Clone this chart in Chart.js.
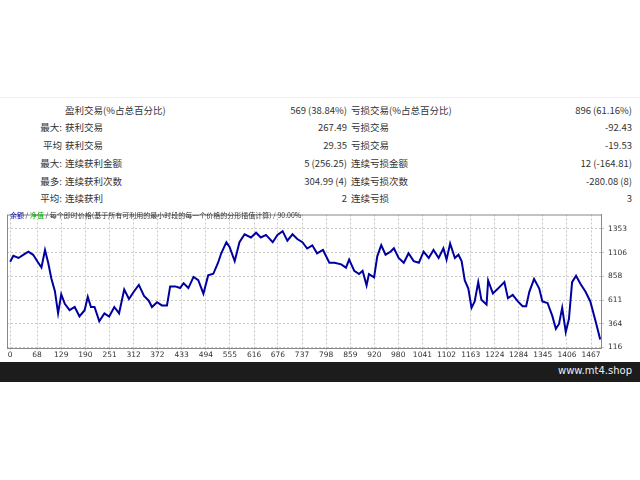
<!DOCTYPE html>
<html>
<head>
<meta charset="utf-8">
<script src="https://cdn.jsdelivr.net/npm/chart.js@4"></script>
<style>
body { margin: 0; width: 640px; height: 480px; background: #fff; position: relative; overflow: hidden;
       font-family: "Noto Sans CJK SC", "DejaVu Sans", sans-serif; color: #333; }
#top { position: absolute; left: 0; top: 0; width: 640px; height: 97px; background: #fff; border-bottom: 1px solid #eee; }
.row { position: absolute; left: 0; width: 640px; height: 18px; font-size: 9.5px; line-height: 18px; }
.row span { position: absolute; white-space: nowrap; }
.pre { right: 578px; }
.n1 { left: 65px; }
.v1 { right: 293px; }
.n2 { left: 351px; }
.v2 { right: 8px; }
#chartBox { position: absolute; left: 0; top: 206px; width: 640px; height: 154px; }
#legend { position: absolute; left: 10px; top: 210px; font-size: 7px; color: #333; white-space: nowrap; }
#bar { position: absolute; left: 0; top: 362px; width: 640px; height: 20px; background: #1c1c1c; }
#bar span { position: absolute; right: 8px; top: 3px; color: #eee; font-family: "DejaVu Sans", sans-serif; font-size: 10px; }
</style>
</head>
<body>
<div id="top"></div>
<div id="table"></div>
<div id="chartBox"><canvas id="c" width="640" height="154"></canvas></div>
<div id="legend"><span style="color:#0000a0">余额</span> / <span style="color:#00a000">净值</span> / 每个即时价格(基于所有可利用的最小时段的每一个价格的分形插值计算) / 90.00%</div>
<div id="bar"><span>www.mt4.shop</span></div>
<script>
// Summary table
const rowPrefix = ['', '最大:', '平均', '最大:', '最多:', '平均:'];
const leftNames = ['盈利交易(%占总百分比)', '获利交易', '获利交易', '连续获利金额', '连续获利次数', '连续获利'];
const leftValues = ['569 (38.84%)', '267.49', '29.35', '5 (256.25)', '304.99 (4)', '2'];
const rightNames = ['亏损交易(%占总百分比)', '亏损交易', '亏损交易', '连续亏损金额', '连续亏损次数', '连续亏损'];
const rightValues = ['896 (61.16%)', '-92.43', '-19.53', '12 (-164.81)', '-280.08 (8)', '3'];

// Balance curve
const trades = [0, 8, 21, 33, 46, 58, 71, 79, 88, 96, 104, 113, 121, 129, 138, 150, 163, 175, 188, 196,
  204, 213, 225, 238, 250, 263, 275, 288, 300, 313, 325, 338, 350, 358, 371, 383, 396, 404, 417, 429,
  438, 450, 463, 475, 488, 500, 513, 525, 533, 546, 554, 567, 579, 592, 608, 621, 633, 646, 663, 675,
  688, 700, 713, 725, 738, 750, 763, 775, 790, 806, 819, 836, 848, 856, 869, 881, 890, 900, 906, 919,
  927, 937, 948, 961, 969, 981, 994, 1006, 1019, 1032, 1044, 1057, 1069, 1082, 1094, 1102, 1111, 1123, 1132, 1140,
  1148, 1157, 1165, 1173, 1182, 1190, 1203, 1207, 1219, 1232, 1240, 1248, 1257, 1269, 1282, 1294, 1303, 1311, 1323, 1336,
  1344, 1357, 1369, 1378, 1386, 1394, 1403, 1411, 1419, 1429, 1440, 1453, 1465, 1478, 1490];
const balance = [1010, 1073, 1050, 1083, 1116, 1083, 1000, 950, 1132, 1000, 835, 703, 472, 670, 571, 505, 538, 439, 505, 644,
  538, 538, 390, 472, 439, 538, 472, 720, 621, 703, 769, 654, 604, 538, 588, 555, 555, 753, 753, 736,
  786, 736, 852, 819, 677, 868, 885, 1000, 1099, 1215, 1165, 1017, 1215, 1297, 1264, 1314, 1264, 1291, 1215, 1291,
  1330, 1231, 1297, 1248, 1215, 1149, 1182, 1099, 1134, 1000, 1000, 983, 949, 1033, 916, 882, 916, 764, 882, 848,
  1067, 1184, 1084, 1117, 1151, 1050, 1000, 1100, 1017, 1000, 1117, 1050, 1134, 1050, 1151, 1033, 1201, 1050, 1084, 1017,
  815, 731, 529, 596, 798, 613, 563, 815, 680, 731, 764, 798, 630, 664, 596, 546, 546, 697, 832, 731,
  596, 580, 445, 311, 361, 529, 277, 412, 798, 865, 781, 697, 596, 395, 200];
const xTicks = [0, 68, 129, 190, 251, 312, 372, 433, 494, 555, 616, 676, 737, 798, 859, 920, 980, 1041, 1102, 1163, 1224, 1284, 1345, 1406, 1467];
const yTicks = [116, 364, 611, 858, 1106, 1353];

// Build the table rows
const tableEl = document.getElementById('table');
const rowTops = [101, 118, 136, 154, 172, 189];
rowPrefix.forEach((p, i) => {
    const row = document.createElement('div');
    row.className = 'row';
    row.style.top = rowTops[i] + 'px';
    row.innerHTML = `
        <span class="pre">${p}</span>
        <span class="n1">${leftNames[i]}</span>
        <span class="v1">${leftValues[i]}</span>
        <span class="n2">${rightNames[i]}</span>
        <span class="v2">${rightValues[i]}</span>`;
    tableEl.appendChild(row);
});

const tickFont = { family: 'DejaVu Sans', size: 7.5 };
new Chart(document.getElementById('c'), {
    type: 'line',
    data: {
        datasets: [{
            data: trades.map((t, i) => ({ x: t, y: balance[i] })),
            borderColor: '#0000a0',
            borderWidth: 2,
            pointRadius: 0,
            tension: 0
        }]
    },
    options: {
        animation: false,
        responsive: false,
        maintainAspectRatio: false,
        devicePixelRatio: 1,
        layout: { padding: { left: 7, top: 3, right: 0, bottom: 0 } },
        plugins: { legend: { display: false }, tooltip: { enabled: false } },
        scales: {
            x: {
                type: 'linear', min: -8, max: 1492,
                afterBuildTicks: axis => { axis.ticks = xTicks.map(v => ({ value: v })); },
                afterFit: axis => { axis.height = 12; },
                grid: { color: '#c8c8c8', tickLength: 2 },
                border: { color: '#888', dash: [2, 2] },
                ticks: { font: tickFont, color: '#333', padding: 1, maxRotation: 0, autoSkip: false, callback: v => String(v) }
            },
            y: {
                position: 'right', min: 110, max: 1504,
                afterBuildTicks: axis => { axis.ticks = yTicks.map(v => ({ value: v })); },
                afterFit: axis => { axis.width = 39; },
                grid: { color: '#c8c8c8', tickLength: 3 },
                border: { color: '#888', dash: [2, 2] },
                ticks: { font: tickFont, color: '#333', padding: 4, callback: v => String(v) }
            }
        }
    },
    plugins: [{
        id: 'frame',
        beforeDatasetsDraw(chart) {
            const { ctx, chartArea: a } = chart;
            ctx.save();
            ctx.strokeStyle = '#888';
            ctx.lineWidth = 1;
            ctx.strokeRect(a.left + 0.5, a.top + 0.5, a.width, a.height);
            ctx.restore();
        }
    }]
});
</script>
</body>
</html>
